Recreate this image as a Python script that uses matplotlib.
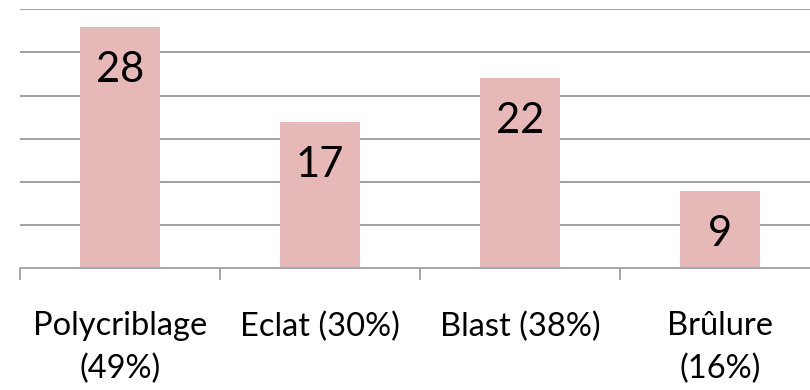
import numpy as np
import matplotlib.pyplot as plt

# donnees
categories = ["Polycriblage\n(49%)", "Eclat (30%)", "Blast (38%)", "Brûlure\n(16%)"]
valeurs = [28, 17, 22, 9]

couleur_barre = "#E6B8B7"
gris_grille = "#878787"
gris_axe = "#A0A0A0"

plt.rcParams['font.family'] = ['Lato', 'DejaVu Sans']

fig = plt.figure(figsize=(8.1, 3.9), dpi=100)
# l'axe deborde a droite de la figure (coupe comme dans le tableur)
ax = fig.add_axes([20 / 810, (390 - 268.3) / 390, 800 / 810, 259 / 390])

x = np.arange(len(categories))
ax.bar(x, valeurs, width=0.4, color=couleur_barre, zorder=2)

ax.set_xlim(-0.5, len(categories) - 0.5)
ax.set_ylim(0, 30)

# lignes de grille horizontales
ax.set_yticks(np.arange(5, 31, 5))
ax.yaxis.grid(True, color=gris_grille, linewidth=1.1)
ax.tick_params(axis='y', length=0, labelleft=False)

for s in ['left', 'right', 'top']:
    ax.spines[s].set_visible(False)
ax.spines['bottom'].set_color(gris_axe)
ax.spines['bottom'].set_linewidth(1.3)

# etiquettes de categories + petits traits entre categories
ax.set_xticks(x)
ax.set_xticklabels(categories, fontsize=23.5, linespacing=1.5)
ax.tick_params(axis='x', which='major', length=0, pad=31)
ax.set_xticks(np.arange(-0.5, len(categories), 1), minor=True)
ax.tick_params(axis='x', which='minor', length=8.6, width=1.3, color=gris_axe)

# valeurs dans les barres
for xi, v in zip(x, valeurs):
    ax.annotate(str(v), (xi, v), xytext=(0, -31), textcoords='offset points',
                ha='center', va='center', fontsize=30, zorder=3)

fig.savefig("out.png", dpi=100)
